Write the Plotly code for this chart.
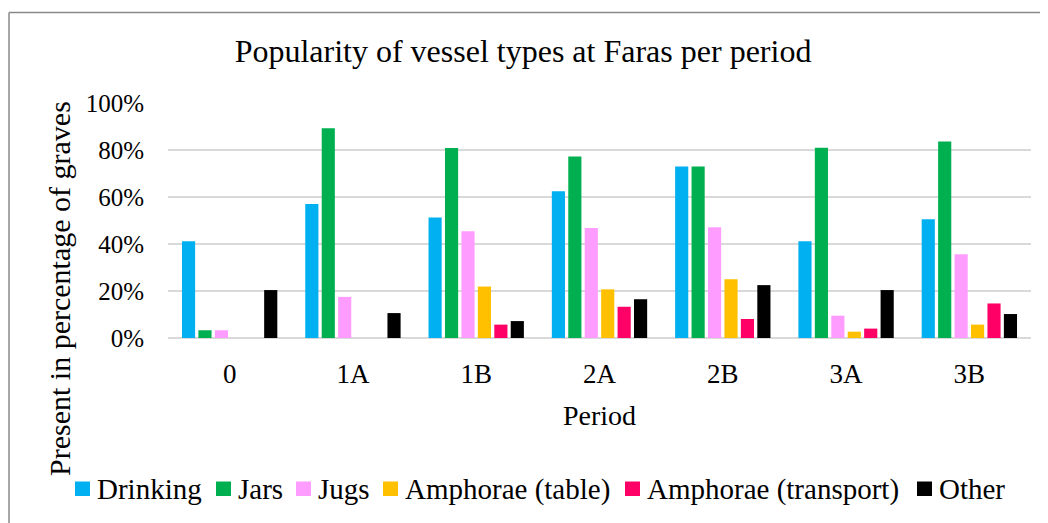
import plotly.graph_objects as go

periods = ["0", "1A", "1B", "2A", "2B", "3A", "3B"]
drinking = [41.2, 57.0, 51.3, 62.4, 73.0, 41.2, 50.5]
jars = [3.3, 89.3, 80.9, 77.2, 73.0, 81.0, 83.6]
jugs = [3.3, 17.5, 45.4, 46.8, 47.1, 9.5, 35.6]
amph_table = [0, 0, 21.9, 20.7, 25.0, 2.7, 5.7]
amph_transport = [0, 0, 5.7, 13.3, 8.1, 4.0, 14.7]
other = [20.4, 10.6, 7.2, 16.5, 22.5, 20.4, 10.2]
y_ticks = [0, 20, 40, 60, 80, 100]
y_tick_labels = ["0%", "20%", "40%", "60%", "80%", "100%"]

series = [
    ("Drinking", drinking, "#00B0F0"),
    ("Jars", jars, "#00B050"),
    ("Jugs", jugs, "#FF9CFF"),
    ("Amphorae (table)", amph_table, "#FFC000"),
    ("Amphorae (transport)", amph_transport, "#FF0066"),
    ("Other", other, "#000000"),
]

FONT = "Liberation Serif, Times New Roman, serif"

fig = go.Figure()
for name, vals, col in series:
    fig.add_trace(go.Bar(name=name, x=periods, y=vals, marker=dict(color=col, line=dict(width=0))))

# page body has an 8px margin; target screen pixels are converted to figure pixels
OFF = 8
W, H = 1048, 523
L, T = 168 - OFF, 103 - OFF
R = W - (1031 - OFF)
B = H - (338 - OFF)
pw = W - L - R
ph = H - T - B

def px_x(p):
    return (p - OFF - L) / pw

def px_y(p):
    return (H - B - (p - OFF)) / ph

legend_sq_x = [75, 216, 296, 383, 625, 917]
annotations = [
    dict(text="Present in percentage of graves", textangle=-90,
         xref="paper", yref="paper", x=px_x(59), y=px_y(289),
         xanchor="center", yanchor="middle", showarrow=False,
         font=dict(family=FONT, size=30, color="black")),
    dict(text="Period", xref="paper", yref="paper", x=0.5, y=px_y(415),
         xanchor="center", yanchor="middle", showarrow=False,
         font=dict(family=FONT, size=28, color="black")),
]
shapes = [
    dict(type="line", xref="paper", yref="paper",
         x0=px_x(9), x1=px_x(9), y0=px_y(12.5), y1=px_y(540),
         line=dict(color="#888888", width=1.5)),
    dict(type="line", xref="paper", yref="paper",
         x0=px_x(9), x1=px_x(1070), y0=px_y(12.5), y1=px_y(12.5),
         line=dict(color="#888888", width=1.5)),
]
for (name, vals, col), sx in zip(series, legend_sq_x):
    shapes.append(dict(type="rect", xref="paper", yref="paper",
                       x0=px_x(sx), x1=px_x(sx + 15), y0=px_y(496), y1=px_y(481.5),
                       fillcolor=col, line=dict(width=0)))
    annotations.append(dict(text=name, xref="paper", yref="paper",
                            x=px_x(sx + 20), y=px_y(489), xanchor="left", yanchor="middle",
                            showarrow=False, font=dict(family=FONT, size=29, color="black")))

fig.update_layout(
    width=W, height=H,
    margin=dict(l=L, r=R, t=T, b=B, autoexpand=False),
    paper_bgcolor="white", plot_bgcolor="white",
    barmode="group", bargap=0.2, bargroupgap=0.2,
    font=dict(family=FONT, color="black", size=25),
    title=dict(text="Popularity of vessel types at Faras per period",
               x=(523 - OFF) / W, xanchor="center", xref="container",
               y=1 - (51 - OFF) / H, yanchor="middle", yref="container",
               font=dict(family=FONT, size=32, color="black")),
    showlegend=False,
    xaxis=dict(showgrid=False, showline=False, zeroline=False, automargin=False,
               ticks="outside", ticklen=12, tickcolor="rgba(0,0,0,0)",
               tickfont=dict(family=FONT, size=27, color="black")),
    yaxis=dict(range=[0, 100], tickvals=y_ticks, ticktext=y_tick_labels,
               showgrid=True, gridcolor="#D9D9D9", gridwidth=1.5,
               zeroline=True, zerolinecolor="#D9D9D9", zerolinewidth=1.5,
               showline=False, automargin=False,
               ticks="outside", ticklen=18, tickcolor="rgba(0,0,0,0)",
               tickfont=dict(family=FONT, size=25, color="black")),
    annotations=annotations,
    shapes=shapes,
)

fig.write_html("out.html")
